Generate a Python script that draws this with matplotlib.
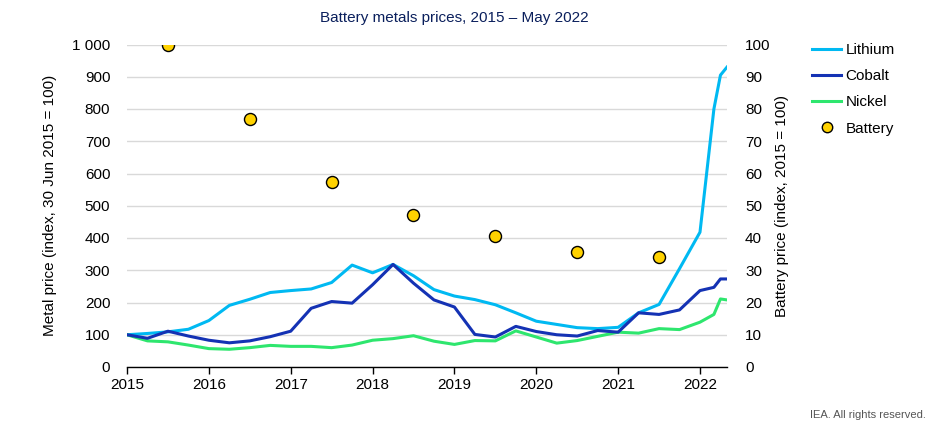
import matplotlib
matplotlib.use("Agg")
import matplotlib.pyplot as plt
from matplotlib.lines import Line2D
from matplotlib.ticker import FuncFormatter

plt.rcParams['font.family'] = ['Liberation Sans', 'DejaVu Sans']

# Time axis (fractional years): quarterly, then monthly in 2022
t = [2015.0, 2015.25, 2015.5, 2015.75, 2016.0, 2016.25, 2016.5, 2016.75,
     2017.0, 2017.25, 2017.5, 2017.75, 2018.0, 2018.25, 2018.5, 2018.75,
     2019.0, 2019.25, 2019.5, 2019.75, 2020.0, 2020.25, 2020.5, 2020.75,
     2021.0, 2021.25, 2021.5, 2021.75, 2022.0, 2022.17, 2022.25, 2022.33]

lithium = [100, 104, 109, 117, 144, 191, 210, 231,
           237, 242, 262, 316, 292, 318, 283, 240,
           220, 209, 193, 168, 142, 132, 122, 119,
           123, 168, 194, 305, 418, 800, 905, 930]

cobalt = [100, 89, 111, 96, 83, 75, 81, 94,
          111, 182, 203, 198, 255, 318, 260, 208,
          186, 101, 93, 126, 110, 100, 96, 113,
          108, 168, 163, 177, 237, 247, 273, 273]

nickel = [100, 81, 78, 68, 57, 55, 60, 67,
          64, 64, 60, 68, 83, 88, 97, 80,
          70, 82, 81, 112, 93, 74, 82, 95,
          108, 105, 119, 116, 139, 163, 211, 208]

battery_t = [2015.5, 2016.5, 2017.5, 2018.5, 2019.5, 2020.5, 2021.5]
battery = [100, 77, 57.5, 47, 40.5, 35.6, 34.2]

years = [2015, 2016, 2017, 2018, 2019, 2020, 2021, 2022]

c_li = '#00B9F2'
c_co = '#1432B4'
c_ni = '#2EE66E'
c_bat = '#FFD200'
navy = '#0A1F5C'
fs = 11

fig = plt.figure(figsize=(9.36, 4.34), dpi=100)
ax = fig.add_axes([127/936, 1 - 367/434, 600/936, (367 - 44.5)/434])

ax.plot(t, lithium, color=c_li, lw=2.2, zorder=3)
ax.plot(t, cobalt, color=c_co, lw=2.2, zorder=4)
ax.plot(t, nickel, color=c_ni, lw=2.2, zorder=3)

ax.set_xlim(2015, 2022.33)
ax.set_ylim(0, 1000)
ax.set_yticks(range(0, 1001, 100))
ax.yaxis.set_major_formatter(FuncFormatter(lambda v, p: f"{int(v):,}".replace(",", " ")))
ax.set_xticks(years)
ax.set_xticklabels([str(y) for y in years])
ax.grid(axis='y', color='#D9D9D9', lw=1, zorder=0)
ax.set_axisbelow(True)
for s in ['top', 'right', 'left']:
    ax.spines[s].set_visible(False)
ax.spines['bottom'].set_color('black')
ax.spines['bottom'].set_linewidth(1)
ax.tick_params(axis='y', length=0, labelsize=fs, pad=12)
ax.tick_params(axis='x', direction='out', length=5, width=1, labelsize=fs, pad=3)
ax.set_ylabel('Metal price (index, 30 Jun 2015 = 100)', fontsize=fs, labelpad=11)

ax2 = ax.twinx()
ax2.scatter(battery_t, battery, s=75, color=c_bat, edgecolor='black', linewidth=1.0, zorder=5)
ax2.set_ylim(0, 100)
ax2.set_yticks(range(0, 101, 10))
for s in ['top', 'right', 'left', 'bottom']:
    ax2.spines[s].set_visible(False)
ax2.tick_params(axis='y', length=0, labelsize=fs, pad=13)
ax2.set_ylabel('Battery price (index, 2015 = 100)', fontsize=fs, labelpad=3)

fig.text(454/936, 1 - 18/434, 'Battery metals prices, 2015 \u2013 May 2022',
         ha='center', va='center', fontsize=fs, color=navy)

handles = [Line2D([], [], color=c_li, lw=2.2),
           Line2D([], [], color=c_co, lw=2.2),
           Line2D([], [], color=c_ni, lw=2.2),
           Line2D([], [], marker='o', ls='none', markersize=7.5,
                  markerfacecolor=c_bat, markeredgecolor='black', markeredgewidth=1.0)]
fig.legend(handles, ['Lithium', 'Cobalt', 'Nickel', 'Battery'],
           loc='upper left', bbox_to_anchor=(812/936, 1 - 43/434),
           frameon=False, fontsize=fs, handlelength=1.9, handletextpad=0.3,
           labelspacing=0.8, borderaxespad=0, borderpad=0)

fig.text(926/936, 1 - 415/434, 'IEA. All rights reserved.', ha='right', va='center',
         fontsize=8, color='#555555')

fig.savefig('out.png', dpi=100)
